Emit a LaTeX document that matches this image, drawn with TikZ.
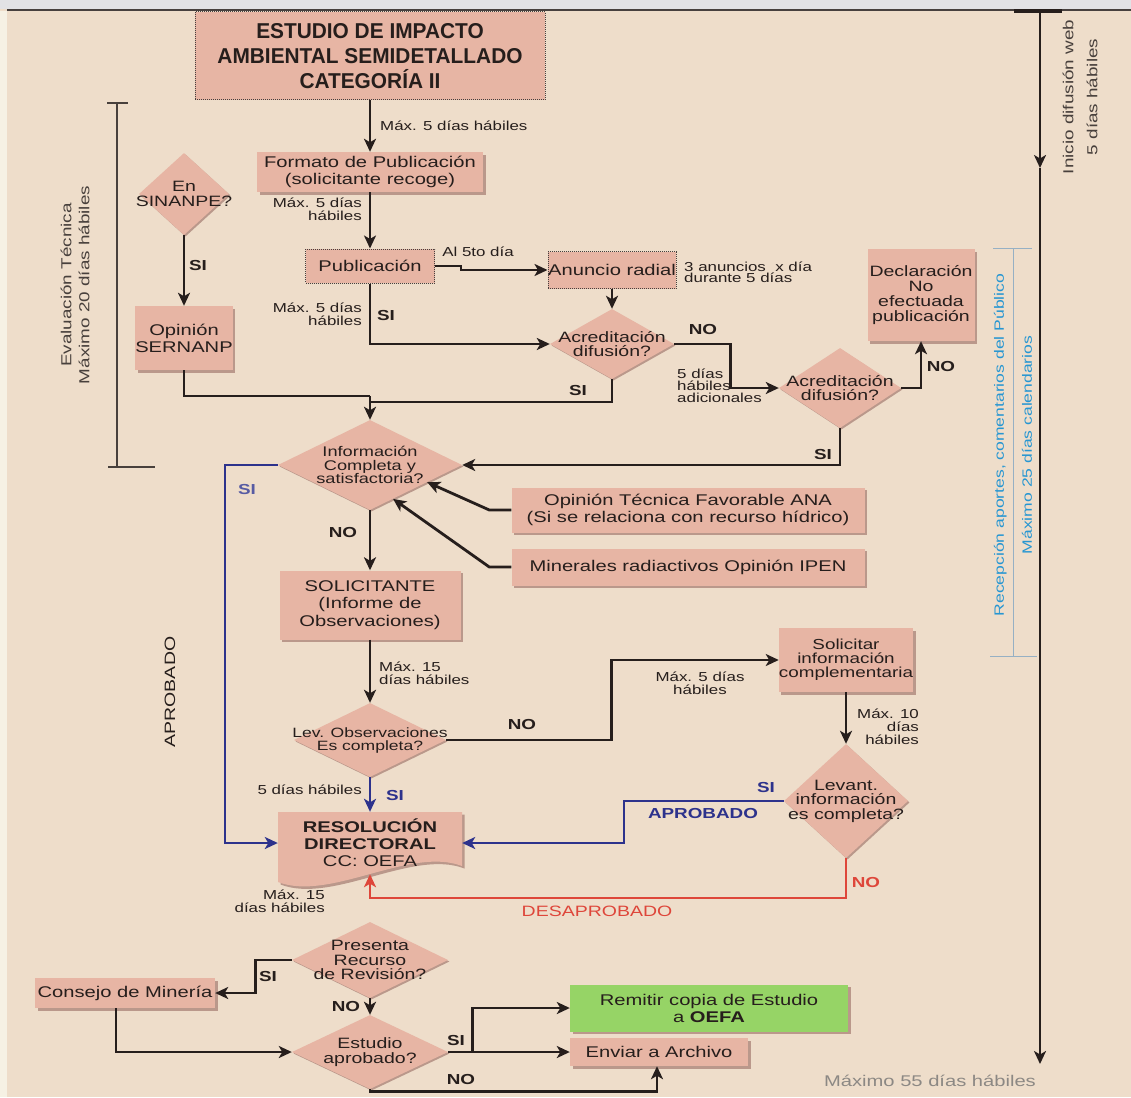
\documentclass[tikz,border=0pt]{standalone}
\usepackage{fontspec}
\setmainfont{Liberation Sans}[FakeStretch=1.3]
\newfontfamily\titlefont{Liberation Sans}[FakeStretch=0.97]
\usepackage{tikz}
\usetikzlibrary{shapes.geometric, arrows.meta, positioning, calc, shadows}

\definecolor{pagebg}{RGB}{238, 221, 202}
\definecolor{topbar}{RGB}{226, 226, 229}
\definecolor{edgecream}{RGB}{246, 241, 228}
\definecolor{boxpink}{RGB}{231, 181, 164}
\definecolor{boxshade}{RGB}{186, 152, 139}
\definecolor{okgreen}{RGB}{150, 212, 102}
\definecolor{ink}{RGB}{38, 30, 28}
\definecolor{siblue}{RGB}{45, 50, 140}
\definecolor{nored}{RGB}{222, 70, 58}
\definecolor{pubblue}{RGB}{38, 150, 210}
\definecolor{brackblue}{RGB}{150, 176, 196}
\definecolor{notegray}{RGB}{140, 136, 132}
\definecolor{sidegray}{RGB}{72, 64, 60}

\begin{document}
\begin{tikzpicture}[x=1pt, y=-1pt,
  box/.style={fill=boxpink, align=center, text=ink, inner sep=0pt,
              font=\fontsize{15.5}{17}\selectfont,
              drop shadow={shadow xshift=2.5pt, shadow yshift=-2.5pt, fill=boxshade, opacity=1}},
  dotbox/.style={fill=boxpink, draw=ink!85, densely dotted, line width=1pt, align=center,
              text=ink, inner sep=0pt, font=\fontsize{15.5}{17}\selectfont},
  dec/.style={diamond, fill=boxpink, inner sep=-100pt, align=center, text=ink,
              font=\fontsize{15}{14.5}\selectfont,
              drop shadow={shadow xshift=1.5pt, shadow yshift=-1.5pt, fill=boxshade, opacity=1}},
  line/.style={draw=ink, line width=2.8pt},
  arr/.style={line, -{Stealth[length=13pt, width=12pt, inset=3.5pt]}},
  lab/.style={font=\fontsize{13}{13}\selectfont, text=ink, inner sep=0pt},
  yn/.style={font=\bfseries\fontsize{14.5}{14.5}\selectfont, text=ink, inner sep=0pt},
  side/.style={rotate=90, align=center, inner sep=0pt},
]
\useasboundingbox (0,0) rectangle (1131,1097);
% Page
\fill[pagebg] (0,0) rectangle (1131,1097);
\fill[topbar] (0,0) rectangle (1131,9);
\fill[edgecream] (0,11) rectangle (7,1097);
\draw[ink!85, line width=2pt] (7,10.5) -- (1131,10.5);

% Publication branch
\node[dotbox, minimum width=350, minimum height=88,
      font=\titlefont\bfseries\fontsize{21.5}{25}\selectfont] (estudio) at (370,56)
  {ESTUDIO DE IMPACTO\\AMBIENTAL SEMIDETALLADO\\CATEGORÍA II};
\node[box, minimum width=226, minimum height=40] (formato) at (370,172)
  {Formato de Publicación\\(solicitante recoge)};
\node[dotbox, minimum width=129, minimum height=34] (publica) at (370,266) {Publicación};
\node[dotbox, minimum width=128, minimum height=37] (anuncio) at (612,270) {Anuncio radial};
\node[dec, minimum width=124, minimum height=70] (acred) at (612,344) {Acreditación\\difusión?};
\node[dec, minimum width=122, minimum height=80] (acredb) at (840,388) {Acreditación\\difusión?};
\node[box, minimum width=107, minimum height=92, font=\fontsize{15}{15}\selectfont] (declara) at (921,295)
  {Declaración\\No\\efectuada\\publicación};

\draw[arr] (estudio) -- (formato);
\node[lab, anchor=west] (l1) at (380,126) {Máx. 5 días hábiles};
\draw[arr] (formato) -- (publica);
\node[lab, anchor=east, align=right] (l2) at (362,209) {Máx. 5 días\\hábiles};
\draw[arr] (publica.east) -- ++(26,0) |- (anuncio.west);
\node[lab] (al5) at (478,252) {Al 5to día};
\node[lab, anchor=west, align=left, font=\fontsize{13}{11}\selectfont] (nota) at (684,272)
  {3 anuncios\ \ x día\\durante 5 días};
\draw[arr] (anuncio) -- (acred);
\draw[arr] (publica.south) |- (acred.west);
\node[lab, anchor=east, align=right] (l3) at (362,314) {Máx. 5 días\\hábiles};
\node[yn] (si2) at (386,316) {SI};
\draw[arr] (acred.east) -- ++(56,0) |- (acredb.west);
\node[yn] (no1) at (703,330) {NO};
\node[lab, anchor=west, align=left, font=\fontsize{13}{12}\selectfont] (l4) at (677,386)
  {5 días\\hábiles\\adicionales};
\draw[arr] (acredb.east) -| (declara.south);
\node[yn] (no2) at (941,367) {NO};

% SINANPE branch
\node[dec, minimum width=90, minimum height=82] (sinanpe) at (184,194) {En\\SINANPE?};
\node[box, minimum width=90, minimum height=64] (sernanp) at (184,338) {Opinión\\SERNANP};
\draw[arr] (sinanpe) -- (sernanp);
\node[yn] (si1) at (198,266) {SI};

% Technical evaluation
\node[dec, minimum width=184, minimum height=90, font=\fontsize{14}{13.5}\selectfont] (info) at (370,465)
  {Información\\Completa y\\satisfactoria?};
\coordinate (joinl) at (370,396);
\coordinate (joinr) at (370,402);
\draw[line] (sernanp.south) |- (joinl);
\draw[line] (acred.south) |- (joinr);
\node[yn] (si3) at (578,391) {SI};
\draw[arr] (joinl) -- (info.north);
\draw[arr] (acredb.south) |- (info.east);
\node[yn] (si4) at (823,455) {SI};

\node[box, minimum width=353, minimum height=45] (ana) at (688,510)
  {Opinión Técnica Favorable ANA\\(Si se relaciona con recurso hídrico)};
\node[box, minimum width=353, minimum height=37] (ipen) at (688,567)
  {Minerales radiactivos Opinión IPEN};
\draw[arr] (ana.west) -- ++(-22,0) -- ($(info.east)!0.38!(info.south)$);
\draw[arr] (ipen.west) -- ++(-22,0) -- ($(info.east)!0.75!(info.south)$);

\draw[sidegray, line width=1.2pt] (107,103) -- (128,103) (117,103) -- (117,467) (108,467) -- (155,467);
\node[side, text=sidegray, font=\fontsize{14.5}{18}\selectfont] (evalt) at (75,285)
  {Evaluación Técnica\\Máximo 20 días hábiles};

% Observations
\node[box, minimum width=181, minimum height=69, font=\fontsize{15.5}{17.5}\selectfont] (solic) at (370,605)
  {SOLICITANTE\\(Informe de\\Observaciones)};
\draw[arr] (info.south) -- (solic.north);
\node[yn] (no3) at (343,533) {NO};
\node[dec, minimum width=152, minimum height=74, font=\fontsize{13.5}{13}\selectfont] (levobs) at (370,740)
  {Lev. Observaciones\\Es completa?};
\draw[arr] (solic.south) -- (levobs.north);
\node[lab, anchor=west, align=left] (l5) at (379,673) {Máx. 15\\días hábiles};

\node[box, minimum width=125, minimum height=64, font=\fontsize{14.5}{14}\selectfont] (solinfo) at (846,660)
  {Solicitar\\información\\complementaria};
\node[dec, minimum width=124, minimum height=114] (levinfo) at (846,801)
  {Levant.\\información\\es completa?};
\draw[arr] (levobs.east) -- ++(165,0) |- (solinfo.west);
\node[yn] (no4) at (522,724) {NO};
\node[lab, align=center] (l6) at (700,683) {Máx. 5 días\\hábiles};
\draw[arr] (solinfo.south) -- (levinfo.north);
\node[lab, anchor=west, align=right] (l7) at (857,727) {Máx. 10\\días\\hábiles};

% Resolution
\fill[boxshade] (280.5,814.5) -- (464.5,814.5) -- (464.5,868.5)
  .. controls (412.5,848.5) and (332.5,904.5) .. (280.5,884.5) -- cycle;
\fill[boxpink] (278,812) -- (462,812) -- (462,866)
  .. controls (410,846) and (330,902) .. (278,882) -- cycle;
\node[minimum width=184, minimum height=62, inner sep=0pt, align=center, text=ink,
      font=\fontsize{15.5}{17}\selectfont] (resol) at (370,843)
  {\textbf{RESOLUCIÓN}\\\textbf{DIRECTORAL}\\CC: OEFA};
\draw[arr, draw=siblue, line width=2.3pt] (levobs.south) -- (resol.north);
\node[lab, anchor=east] (l8) at (362,790) {5 días hábiles};
\node[yn, text=siblue] (si5) at (395,795) {SI};
\draw[arr, draw=siblue, line width=2.3pt] (info.west) -- ++(-53,0) |- (resol.west);
\node[yn, text=siblue!80] (si6) at (247,490) {SI};
\node[side, font=\fontsize{15}{15}\selectfont, text=ink] (aprobl) at (170,692) {APROBADO};
\draw[arr, draw=siblue, line width=2.3pt] (levinfo.west) -- ++(-160,0) |- (resol.east);
\node[yn, text=siblue] (si7) at (766,787) {SI};
\node[yn, text=siblue] (aprob) at (703,813) {APROBADO};
\draw[arr, draw=nored, line width=2.3pt] (levinfo.south) -- ++(0,40) -| (resol.south);
\node[yn, text=nored] (no5) at (866,882) {NO};
\node[font=\fontsize{15}{15}\selectfont, text=nored, inner sep=0pt] (desap) at (597,911) {DESAPROBADO};
\node[lab, anchor=east, align=right] (l9) at (325,901) {Máx. 15\\días hábiles};

% Review
\node[dec, minimum width=156, minimum height=76] (recurso) at (370,960) {Presenta\\Recurso\\de Revisión?};
\node[box, minimum width=180, minimum height=30] (consejo) at (125,993) {Consejo de Minería};
\node[dec, minimum width=156, minimum height=74] (esap) at (370,1052) {Estudio\\aprobado?};
\node[box, fill=okgreen, minimum width=278, minimum height=47] (remitir) at (709,1008)
  {Remitir copia de Estudio\\a \textbf{OEFA}};
\node[box, minimum width=178, minimum height=28] (archivo) at (659,1052) {Enviar a Archivo};

\draw[arr] (recurso.west) -- ++(-36,0) |- (consejo.east);
\node[yn] (si8) at (268,976) {SI};
\draw[arr] (recurso.south) -- (esap.north);
\node[yn] (no6) at (346,1006) {NO};
\draw[arr] ([xshift=-9pt]consejo.south) |- (esap.west);
\draw[arr] (esap.east) -- ++(24,0) |- (remitir.west);
\draw[arr] (esap.east) -- (archivo.west);
\node[yn] (si9) at (456,1040) {SI};
\draw[arr] (esap.south) -- ++(0,2) -| ([xshift=-2pt]archivo.south);
\node[yn] (no7) at (461,1079) {NO};
\node[font=\fontsize{15.5}{15.5}\selectfont, text=notegray, inner sep=0pt] (total) at (930,1081)
  {Máximo 55 días hábiles};

% Web timeline
\coordinate (webtop) at (1040,11);
\coordinate (webmid) at (1040,168);
\coordinate (webend) at (1040,1064);
\draw[ink, line width=3.5pt] (1014,11) -- (1062,11);
\draw[arr] (webtop) -- (webmid);
\draw[arr] (webmid) -- (webend);
\node[side, text=sidegray, font=\fontsize{14.5}{24}\selectfont] (inicio) at (1080,97)
  {Inicio difusión web\\5 días hábiles};
\draw[brackblue, line width=1pt] (993,248) -- (1032,248) (1013,248) -- (1013,656) (990,656) -- (1037,656);
\node[side, text=pubblue, font=\fontsize{13.5}{28}\selectfont] (recep) at (1013,445)
  {Recepción aportes, comentarios del Público\\Máximo 25 días calendarios};
\end{tikzpicture}
\end{document}
